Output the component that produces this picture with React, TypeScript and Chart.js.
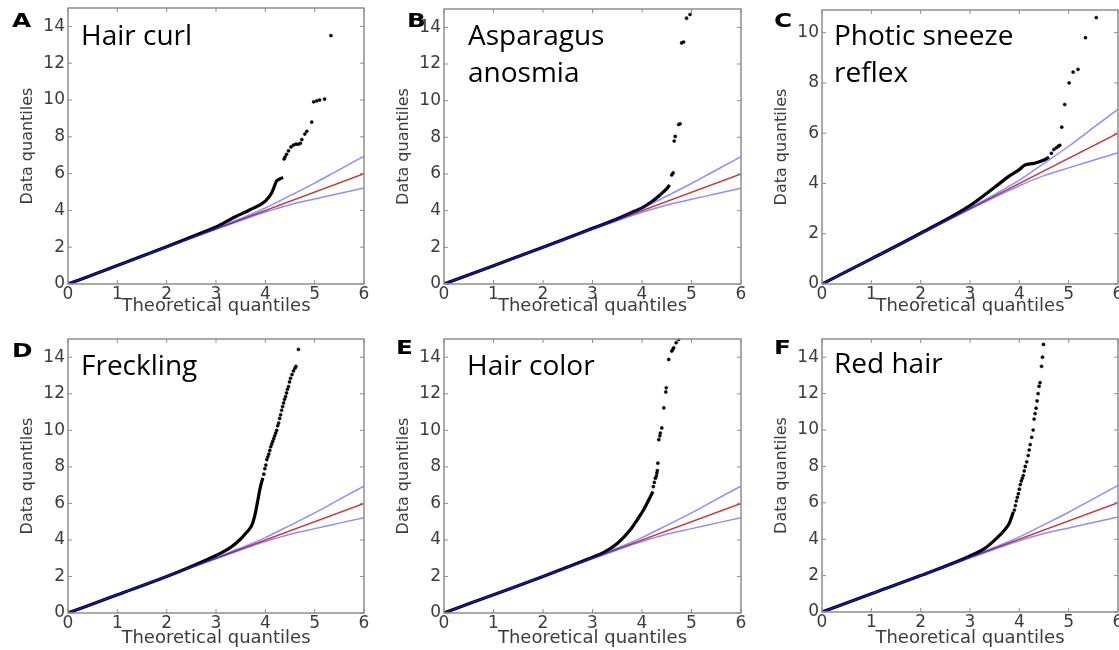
import React, { useEffect, useRef } from "react";
import { Chart, registerables } from "chart.js";

Chart.register(...registerables);

if (typeof document !== "undefined") {
  document.body.style.margin = "0";
}

// ---------- data ----------
const panelLetters = ["A", "B", "C", "D", "E", "F"];
const panelTitles = [
  ["Hair curl"],
  ["Asparagus", "anosmia"],
  ["Photic sneeze", "reflex"],
  ["Freckling"],
  ["Hair color"],
  ["Red hair"],
];
const yMaxes = [15, 15, 10.9, 15, 15, 15];
const xMin = 0;
const xMax = 6;

// expected line (y = x)
const expectedX = [0, 6];
const expectedY = [0, 6];

// confidence band
const bandX = [0, 1, 2, 3, 3.5, 4, 4.5, 5, 5.5, 6];
const bandUpper = [0, 1.0, 2.01, 3.03, 3.56, 4.13, 4.8, 5.48, 6.22, 6.95];
const bandLower = [0, 1.0, 1.99, 2.97, 3.45, 3.91, 4.31, 4.62, 4.92, 5.22];

// A: Hair curl
const hairCurlDenseX = [0, 1, 2, 2.7, 3.0, 3.35, 3.7, 4.0, 4.13, 4.23, 4.3, 4.36];
const hairCurlDenseY = [0, 1.0, 2.02, 2.77, 3.1, 3.6, 4.05, 4.5, 4.96, 5.6, 5.72, 5.79];
const hairCurlTailX = [4.38, 4.4, 4.43, 4.47, 4.52, 4.57, 4.62, 4.67, 4.71, 4.74, 4.8, 4.84, 4.94, 4.98, 5.04, 5.1, 5.2, 5.33];
const hairCurlTailY = [6.8, 6.9, 7.05, 7.24, 7.45, 7.55, 7.6, 7.6, 7.65, 7.85, 8.15, 8.3, 8.8, 9.9, 9.95, 10.0, 10.05, 13.5];

// B: Asparagus anosmia
const asparagusDenseX = [0, 1, 2, 3, 3.5, 3.8, 4.0, 4.2, 4.37, 4.5, 4.56];
const asparagusDenseY = [0, 1, 2, 3.04, 3.56, 3.92, 4.15, 4.5, 4.87, 5.2, 5.4];
const asparagusTailX = [4.6, 4.63, 4.65, 4.67, 4.74, 4.77, 4.8, 4.84, 4.9, 4.97];
const asparagusTailY = [5.95, 6.06, 7.8, 8.05, 8.7, 8.74, 13.15, 13.2, 14.5, 14.7];

// C: Photic sneeze reflex
const photicDenseX = [0, 1, 2, 3, 3.5, 3.8, 4.0, 4.1, 4.3, 4.5, 4.6];
const photicDenseY = [0, 1.0, 2.02, 3.12, 3.85, 4.3, 4.55, 4.72, 4.8, 4.93, 5.05];
const photicTailX = [4.65, 4.7, 4.75, 4.79, 4.82, 4.86, 4.92, 5.01, 5.09, 5.19, 5.34, 5.56];
const photicTailY = [5.2, 5.35, 5.42, 5.48, 5.52, 6.24, 7.14, 8.0, 8.43, 8.54, 9.8, 10.6];

// D: Freckling
const frecklingDenseX = [0, 1, 2, 2.5, 3, 3.3, 3.5, 3.6, 3.68, 3.74, 3.8, 3.85, 3.9, 3.95];
const frecklingDenseY = [0, 1, 2, 2.55, 3.15, 3.6, 4.05, 4.35, 4.6, 4.9, 5.5, 6.2, 6.9, 7.4];
const frecklingTailX = [3.97, 3.99, 4.01, 4.03, 4.05, 4.07, 4.09, 4.11, 4.13, 4.15, 4.17, 4.19, 4.21, 4.23, 4.25, 4.27, 4.29, 4.31, 4.33, 4.35, 4.37, 4.39, 4.41, 4.43, 4.45, 4.47, 4.49, 4.51, 4.54, 4.57, 4.6, 4.62, 4.67];
const frecklingTailY = [7.6, 7.9, 8.1, 8.4, 8.55, 8.7, 8.9, 9.1, 9.25, 9.4, 9.55, 9.7, 9.85, 10.0, 10.25, 10.4, 10.65, 10.85, 11.1, 11.3, 11.5, 11.7, 11.85, 12.05, 12.25, 12.4, 12.65, 12.85, 13.05, 13.25, 13.4, 13.5, 14.43];

// E: Hair color
const hairColorDenseX = [0, 1, 2, 3, 3.22, 3.5, 3.76, 3.9, 4.03, 4.17, 4.22];
const hairColorDenseY = [0, 1, 2, 3.05, 3.3, 3.8, 4.54, 5.09, 5.64, 6.37, 6.65];
const hairColorTailX = [4.23, 4.25, 4.27, 4.29, 4.3, 4.31, 4.32, 4.34, 4.36, 4.37, 4.4, 4.44, 4.48, 4.49, 4.54, 4.6, 4.62, 4.64, 4.69, 4.74];
const hairColorTailY = [6.92, 7.15, 7.38, 7.5, 7.66, 7.8, 8.2, 9.49, 9.7, 9.85, 10.13, 11.23, 12.1, 12.33, 13.88, 14.34, 14.42, 14.52, 14.8, 14.98];

// F: Red hair
const redHairDenseX = [0, 1, 2, 3, 3.3, 3.5, 3.7, 3.8, 3.85, 3.88];
const redHairDenseY = [0, 1, 2, 3.08, 3.5, 3.95, 4.5, 4.9, 5.27, 5.5];
const redHairTailX = [3.9, 3.92, 3.94, 3.96, 3.98, 4.0, 4.02, 4.04, 4.06, 4.08, 4.1, 4.12, 4.15, 4.18, 4.2, 4.22, 4.25, 4.28, 4.3, 4.32, 4.34, 4.36, 4.38, 4.4, 4.42, 4.45, 4.47, 4.49];
const redHairTailY = [5.6, 5.85, 6.1, 6.3, 6.5, 6.75, 7.0, 7.2, 7.35, 7.5, 7.75, 8.0, 8.25, 8.6, 8.9, 9.2, 9.6, 10.0, 10.6, 10.9, 11.2, 11.6, 12.0, 12.4, 12.6, 13.5, 14.0, 14.7];

const denseXs = [hairCurlDenseX, asparagusDenseX, photicDenseX, frecklingDenseX, hairColorDenseX, redHairDenseX];
const denseYs = [hairCurlDenseY, asparagusDenseY, photicDenseY, frecklingDenseY, hairColorDenseY, redHairDenseY];
const tailXs = [hairCurlTailX, asparagusTailX, photicTailX, frecklingTailX, hairColorTailX, redHairTailX];
const tailYs = [hairCurlTailY, asparagusTailY, photicTailY, frecklingTailY, hairColorTailY, redHairTailY];

// ---------- layout ----------
type Rect = { l: number; r: number; t: number; b: number };
const canvasRects: Rect[] = [
  { l: 0, r: 371, t: 0, b: 322 },
  { l: 372, r: 748, t: 0, b: 322 },
  { l: 748, r: 1132, t: 0, b: 322 },
  { l: 0, r: 371, t: 325, b: 650 },
  { l: 372, r: 748, t: 325, b: 650 },
  { l: 748, r: 1132, t: 325, b: 650 },
];
const plotRects: Rect[] = [
  { l: 68, r: 364, t: 8, b: 284 },
  { l: 444, r: 741, t: 9, b: 284 },
  { l: 822, r: 1118, t: 10, b: 284 },
  { l: 68, r: 364, t: 339, b: 613 },
  { l: 444, r: 741, t: 339, b: 613 },
  { l: 822, r: 1118, t: 339, b: 612 },
];
const xTitleCenters = [306.5, 306.5, 306.5, 638, 638, 638];
const letterPos = [
  { x: 12, y: 11 },
  { x: 407, y: 11 },
  { x: 774, y: 11 },
  { x: 12, y: 341 },
  { x: 396, y: 338 },
  { x: 774, y: 338 },
];
const titlePos = [
  { x: 81, y: 16 },
  { x: 468, y: 16 },
  { x: 834, y: 16 },
  { x: 81, y: 346 },
  { x: 467, y: 346 },
  { x: 834, y: 344 },
];

const TICK_COLOR = "#3c3c3c";
const FRAME_COLOR = "#8e8e8e";
const AXIS_FONT = "'DejaVu Sans', sans-serif";

const zip = (xs: number[], ys: number[]) => xs.map((x, i) => ({ x, y: ys[i] }));

const framePlugin = {
  id: "qqFrame",
  afterDatasetsDraw(chart: any) {
    const { ctx, chartArea: a, scales } = chart;
    ctx.save();
    ctx.strokeStyle = FRAME_COLOR;
    ctx.lineWidth = 1.5;
    ctx.strokeRect(a.left, a.top, a.right - a.left, a.bottom - a.top);
    ctx.lineWidth = 1;
    const L = 4;
    ctx.beginPath();
    for (const t of scales.x.ticks) {
      const px = scales.x.getPixelForValue(t.value);
      ctx.moveTo(px, a.bottom);
      ctx.lineTo(px, a.bottom - L);
      ctx.moveTo(px, a.top);
      ctx.lineTo(px, a.top + L);
    }
    for (const t of scales.y.ticks) {
      const py = scales.y.getPixelForValue(t.value);
      ctx.moveTo(a.left, py);
      ctx.lineTo(a.left + L, py);
      ctx.moveTo(a.right, py);
      ctx.lineTo(a.right - L, py);
    }
    ctx.stroke();
    ctx.restore();
  },
};

function Panel({ idx }: { idx: number }) {
  const ref = useRef<HTMLCanvasElement | null>(null);
  const c = canvasRects[idx];
  const p = plotRects[idx];
  const W = c.r - c.l;
  const H = c.b - c.t;

  useEffect(() => {
    if (!ref.current) return;
    const yAxisW = p.l - c.l;
    const xAxisH = c.b - p.b;
    const yTitleSize = 16;
    const xTitleSize = 18;
    const yTitlePadTop = p.l - 40 - c.l - (yTitleSize * 1.2) / 2;
    const xTitlePadBottom = c.b - (xTitleSize * 1.2) / 2 - xTitleCenters[idx];

    const chart = new Chart(ref.current, {
      type: "scatter",
      data: {
        datasets: [
          {
            label: "upper",
            data: zip(bandX, bandUpper),
            showLine: true,
            cubicInterpolationMode: "monotone",
            borderColor: "rgba(30,30,255,0.5)",
            borderWidth: 1.5,
            pointRadius: 0,
            order: 0,
          },
          {
            label: "lower",
            data: zip(bandX, bandLower),
            showLine: true,
            cubicInterpolationMode: "monotone",
            borderColor: "rgba(30,30,255,0.5)",
            borderWidth: 1.5,
            pointRadius: 0,
            order: 0,
          },
          {
            label: "dense",
            data: zip(denseXs[idx], denseYs[idx]),
            showLine: true,
            cubicInterpolationMode: "monotone",
            borderColor: "#000000",
            borderWidth: 3.2,
            pointRadius: 0,
            order: 1,
          },
          {
            label: "tail",
            data: zip(tailXs[idx], tailYs[idx]),
            showLine: false,
            pointRadius: 1.6,
            pointBorderWidth: 0.4,
            pointBackgroundColor: "#000000",
            pointBorderColor: "#000000",
            order: 1,
          },
          {
            label: "expected",
            data: zip(expectedX, expectedY),
            showLine: true,
            borderColor: "rgba(195,35,35,0.9)",
            borderWidth: 1.5,
            pointRadius: 0,
            order: 2,
          },
        ],
      } as any,
      options: {
        animation: false,
        responsive: false,
        maintainAspectRatio: false,
        events: [],
        plugins: { legend: { display: false }, tooltip: { enabled: false } },
        layout: { padding: { left: 0, right: c.r - p.r, top: p.t - c.t, bottom: 0 } },
        scales: {
          x: {
            type: "linear",
            min: xMin,
            max: xMax,
            grid: { display: false, drawTicks: false },
            border: { display: false },
            ticks: {
              stepSize: 1,
              includeBounds: false,
              color: TICK_COLOR,
              padding: 0,
              maxRotation: 0,
              autoSkip: false,
              font: { family: AXIS_FONT, size: 17 },
            },
            title: {
              display: true,
              text: "Theoretical quantiles",
              color: TICK_COLOR,
              font: { family: AXIS_FONT, size: xTitleSize },
              padding: { top: 0, bottom: xTitlePadBottom },
            },
            afterFit: (s: any) => {
              s.height = xAxisH;
              s.paddingLeft = 0;
              s.paddingRight = 0;
            },
          },
          y: {
            type: "linear",
            min: 0,
            max: yMaxes[idx],
            grid: { display: false, drawTicks: false },
            border: { display: false },
            ticks: {
              stepSize: 2,
              includeBounds: false,
              color: TICK_COLOR,
              padding: 3,
              font: { family: AXIS_FONT, size: 17 },
            },
            title: {
              display: true,
              text: "Data quantiles",
              color: TICK_COLOR,
              font: { family: AXIS_FONT, size: yTitleSize },
              padding: { top: yTitlePadTop, bottom: 0 },
            },
            afterFit: (s: any) => {
              s.width = yAxisW;
              s.paddingTop = 0;
              s.paddingBottom = 0;
            },
          },
        },
      } as any,
      plugins: [framePlugin],
    });
    return () => chart.destroy();
  }, [idx]);

  const lp = letterPos[idx];
  const tp = titlePos[idx];
  return (
    <>
      <canvas
        ref={ref}
        width={W}
        height={H}
        style={{ position: "absolute", left: c.l, top: c.t, width: W, height: H }}
      />
      <div
        style={{
          position: "absolute",
          left: lp.x,
          top: lp.y,
          fontFamily: "'DejaVu Sans', sans-serif",
          fontWeight: 700,
          fontSize: 19,
          lineHeight: "19px",
          color: "#000",
          transform: "scaleX(1.3)",
          transformOrigin: "left top",
        }}
      >
        {panelLetters[idx]}
      </div>
      <div
        style={{
          position: "absolute",
          left: tp.x,
          top: tp.y,
          fontFamily: "'Open Sans', sans-serif",
          fontSize: 28,
          lineHeight: "37px",
          color: "#000",
          whiteSpace: "nowrap",
        }}
      >
        {panelTitles[idx].map((t, i) => (
          <div key={i}>{t}</div>
        ))}
      </div>
    </>
  );
}

export default function App() {
  return (
    <div style={{ position: "relative", width: 1119, height: 650, background: "#fff", overflow: "hidden" }}>
      {panelLetters.map((_, i) => (
        <Panel key={i} idx={i} />
      ))}
    </div>
  );
}
